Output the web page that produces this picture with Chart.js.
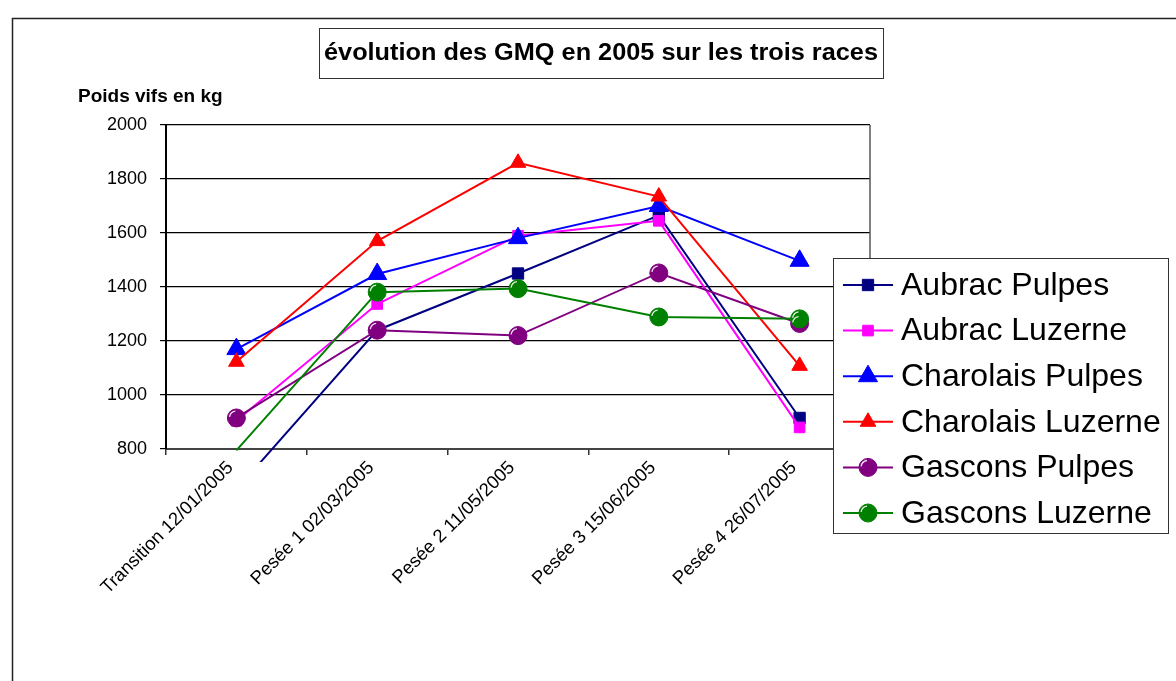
<!DOCTYPE html>
<html>
<head>
<meta charset="utf-8">
<script src="https://cdn.jsdelivr.net/npm/chart.js@4.4.0/dist/chart.umd.min.js"></script>
<style>
  html, body { margin: 0; padding: 0; background: #fff; }
  #wrap { width: 1176px; height: 681px; position: relative; }
</style>
</head>
<body>
<div id="wrap"><canvas id="myChart" width="1176" height="681"></canvas></div>
<script>
// categories + series
const categories = ["Transition 12/01/2005", "Pesée 1 02/03/2005", "Pesée 2 11/05/2005", "Pesée 3 15/06/2005", "Pesée 4 26/07/2005"];
const aubracPulpes     = [650, 1240, 1450, 1665, 915];
const aubracLuzerne    = [905, 1337, 1590, 1645, 880];
const charolaisPulpes  = [1170, 1448, 1581, 1700, 1497];
const charolaisLuzerne = [1123, 1570, 1860, 1735, 1108];
const gasconsPulpes    = [915, 1240, 1220, 1452, 1265];
const gasconsLuzerne   = [795, 1381, 1394, 1289, 1282];

const seriesNames = ["Aubrac Pulpes", "Aubrac Luzerne", "Charolais Pulpes", "Charolais Luzerne", "Gascons Pulpes", "Gascons Luzerne"];
const seriesValues = [aubracPulpes, aubracLuzerne, charolaisPulpes, charolaisLuzerne, gasconsPulpes, gasconsLuzerne];
const yTicks = [800, 1000, 1200, 1400, 1600, 1800, 2000];

const chartTitle = "évolution des GMQ en 2005 sur les trois races";
const yTitle = "Poids vifs en kg";

const FONT = "'Liberation Sans', Arial, sans-serif";
const colors = ["#000080", "#FF00FF", "#0000FF", "#FF0000", "#800080", "#008000"];
const styles = ["rect", "rect", "triangle", "triangle", "circle", "circle"];
const radii  = [8, 7.5, 11, 9, 9, 9];

const datasets = seriesNames.map((name, i) => ({
	label: name,
	data: seriesValues[i],
	borderColor: colors[i],
	backgroundColor: colors[i],
	borderWidth: 2,
	pointStyle: styles[i],
	pointRadius: (c) => c.raw < yTicks[0] ? 0 : radii[i],
	pointBackgroundColor: colors[i],
	pointBorderColor: colors[i],
	pointBorderWidth: 1,
	tension: 0,
	order: 5 - i,
	clip: { left: 0, top: 0, right: 0, bottom: 13 }
}));

// little white shine on the round markers
function shine(ctx, x, y, r) {
	ctx.save();
	ctx.strokeStyle = "rgba(255,255,255,0.9)";
	ctx.lineWidth = 1.3;
	ctx.beginPath();
	ctx.arc(x, y, r - 2, Math.PI * 1.05, Math.PI * 1.45);
	ctx.stroke();
	ctx.restore();
}

// frame, title box, axis title, plot border and legend box
const decorations = {
	id: "decorations",
	beforeDraw(chart) {
		const ctx = chart.ctx;
		ctx.save();
		ctx.fillStyle = "#fff";
		ctx.fillRect(0, 0, chart.width, chart.height);
		ctx.strokeStyle = "#222";
		ctx.lineWidth = 1.5;
		ctx.strokeRect(12.5, 18.5, 1200, 700);
		ctx.restore();
	},
	beforeDatasetsDraw(chart) {
		const ctx = chart.ctx, a = chart.chartArea;
		ctx.save();
		ctx.strokeStyle = "#555";
		ctx.lineWidth = 1.5;
		ctx.beginPath();
		ctx.moveTo(a.right, a.top);
		ctx.lineTo(a.right, a.bottom);
		ctx.stroke();
		ctx.restore();
	},
	afterDatasetsDraw(chart) {
		[4, 5].forEach(i => {
			chart.getDatasetMeta(i).data.forEach((pt, j) => {
				if (seriesValues[i][j] >= yTicks[0]) shine(chart.ctx, pt.x, pt.y, radii[i]);
			});
		});
	},
	afterDraw(chart) {
		const ctx = chart.ctx;
		ctx.save();
		// title
		ctx.fillStyle = "#fff";
		ctx.fillRect(319, 28, 564, 50);
		ctx.strokeStyle = "#333";
		ctx.lineWidth = 1;
		ctx.strokeRect(319.5, 28.5, 564, 50);
		ctx.fillStyle = "#000";
		ctx.font = "bold 23px " + FONT;
		ctx.textAlign = "center";
		ctx.textBaseline = "middle";
		ctx.save();
		ctx.translate(601, 54);
		ctx.scale(1.1, 1);
		ctx.fillText(chartTitle, 0, 0);
		ctx.restore();
		// y axis title
		ctx.font = "bold 19px " + FONT;
		ctx.textAlign = "left";
		ctx.textBaseline = "alphabetic";
		ctx.fillText(yTitle, 78, 102);
		// legend
		ctx.fillStyle = "#fff";
		ctx.fillRect(833, 258, 335, 275);
		ctx.strokeStyle = "#333";
		ctx.strokeRect(833.5, 258.5, 335, 275);
		chart.data.datasets.forEach((ds, i) => {
			const y = 285 + i * 45.6;
			ctx.strokeStyle = colors[i];
			ctx.lineWidth = 2;
			ctx.beginPath();
			ctx.moveTo(843, y);
			ctx.lineTo(893, y);
			ctx.stroke();
			ctx.fillStyle = colors[i];
			ctx.lineWidth = 1;
			Chart.helpers.drawPoint(ctx, { pointStyle: styles[i], radius: radii[i], rotation: 0, borderWidth: 1 }, 868, y);
			if (styles[i] === "circle") shine(ctx, 868, y, radii[i]);
			ctx.fillStyle = "#000";
			ctx.font = "32px " + FONT;
			ctx.textAlign = "left";
			ctx.textBaseline = "middle";
			ctx.fillText(ds.label, 901, y + 1);
		});
		ctx.restore();
	}
};

new Chart("myChart", {
	type: "line",
	data: { labels: categories, datasets: datasets },
	plugins: [decorations],
	options: {
		responsive: false,
		animation: false,
		layout: { padding: { left: 96, top: 125, right: 306, bottom: 0 } },
		plugins: {
			legend: { display: false },
			title: { display: false },
			tooltip: { enabled: false }
		},
		scales: {
			x: {
				offset: true,
				grid: { drawOnChartArea: false, offset: true, color: "#333", tickLength: 6, lineWidth: 1.5 },
				border: { color: "#444", width: 2 },
				ticks: {
					color: "#000",
					font: { family: FONT, size: 18.5 },
					maxRotation: 45, minRotation: 45,
					labelOffset: -6,
					padding: 2
				},
				afterFit: (s) => { s.height = 232; }
			},
			y: {
				min: yTicks[0],
				max: yTicks[yTicks.length - 1],
				afterBuildTicks: (s) => { s.ticks = yTicks.map(v => ({ value: v })); },
				grid: { color: "#000", lineWidth: 1.2, tickLength: 6 },
				border: { color: "#000", width: 2 },
				ticks: {
					color: "#000",
					font: { family: FONT, size: 18 },
					padding: 13,
					callback: (v) => String(v)
				},
				afterFit: (s) => { s.width = 70; }
			}
		}
	}
});
</script>
</body>
</html>
